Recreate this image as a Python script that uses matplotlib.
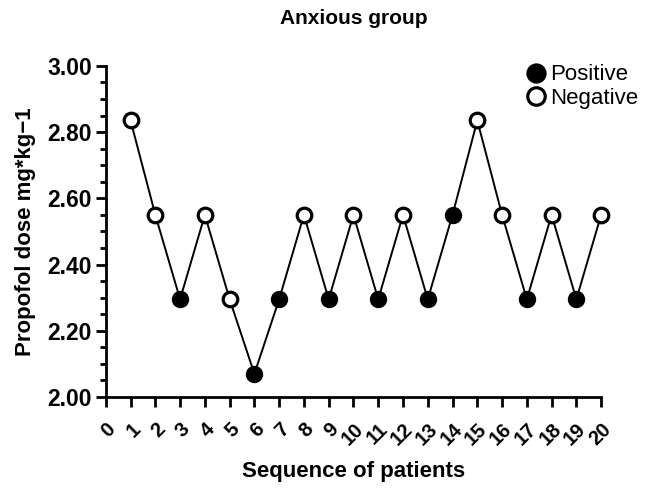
import matplotlib
matplotlib.use("Agg")
import matplotlib.pyplot as plt
from matplotlib.ticker import MultipleLocator

plt.rcParams['font.family'] = ['Liberation Sans', 'DejaVu Sans']

# up-down sequence, anxious group
patients = list(range(1, 21))
dose = [2.835, 2.55, 2.295, 2.55, 2.295, 2.07, 2.295, 2.55, 2.295, 2.55,
        2.295, 2.55, 2.295, 2.55, 2.835, 2.55, 2.295, 2.55, 2.295, 2.55]
positive = [0, 0, 1, 0, 0, 1, 1, 0, 1, 0,
            1, 0, 1, 1, 0, 0, 1, 0, 1, 0]
xticks = list(range(0, 21))

fig = plt.figure(figsize=(6.45, 4.95), dpi=100)
ax = fig.add_axes([0.164, 0.198, 0.768, 0.669])

ax.plot(patients, dose, color='black', lw=1.4, zorder=2, clip_on=False)

pos_x = [p for p, f in zip(patients, positive) if f]
pos_y = [d for d, f in zip(dose, positive) if f]
neg_x = [p for p, f in zip(patients, positive) if not f]
neg_y = [d for d, f in zip(dose, positive) if not f]

ax.plot(pos_x, pos_y, 'o', ms=10.5, mfc='black', mec='black', mew=2,
        ls='none', label='Positive', zorder=3, clip_on=False)
ax.plot(neg_x, neg_y, 'o', ms=10.5, mfc='white', mec='black', mew=2.3,
        ls='none', label='Negative', zorder=3, clip_on=False)

ax.set_xlim(0, 20)
ax.set_ylim(2.0, 3.0)
ax.set_xticks(xticks)
ax.set_xticklabels([str(t) for t in xticks], rotation=45, ha='right',
                   va='top', rotation_mode='anchor', fontsize=14.5,
                   fontweight='bold')
ax.yaxis.set_major_locator(MultipleLocator(0.2))
ax.yaxis.set_minor_locator(MultipleLocator(0.05))
ax.set_yticklabels(['%.2f' % v for v in ax.get_yticks()])
for lab in ax.get_yticklabels():
    lab.set_fontsize(16.5)
    lab.set_fontweight('bold')

for s in ['top', 'right']:
    ax.spines[s].set_visible(False)
for s in ['left', 'bottom']:
    ax.spines[s].set_linewidth(2)
ax.tick_params(axis='both', which='major', length=7, width=2)
ax.tick_params(axis='y', which='minor', length=4, width=2)
ax.tick_params(axis='x', pad=9)
ax.tick_params(axis='y', pad=3)

ax.set_ylabel('Propofol dose mg*kg\u22121', fontsize=16, fontweight='bold',
              labelpad=8)
ax.set_xlabel('Sequence of patients', fontsize=16, fontweight='bold',
              labelpad=9)
ax.set_title('Anxious group', fontsize=15, fontweight='bold', pad=30)

ax.legend(loc='upper right', bbox_to_anchor=(1.115, 1.065), frameon=False,
          fontsize=16, handletextpad=0.1, labelspacing=0.1,
          handlelength=1.1, markerscale=1.2)

fig.savefig('out.png', dpi=100)
